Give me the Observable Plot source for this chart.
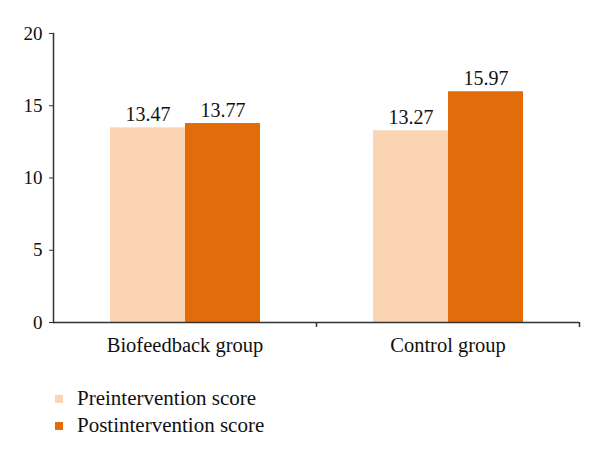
<!DOCTYPE html>
<html>
<head>
<meta charset="utf-8">
<script src="https://cdn.jsdelivr.net/npm/d3@7"></script>
<script src="https://cdn.jsdelivr.net/npm/@observablehq/plot@0.6"></script>
<style>
  body { margin: 0; background: white; font-family: "Liberation Serif", serif; }
  #wrap { position: relative; width: 600px; height: 457px; }
  #legend { position: absolute; left: 55px; top: 385px; font-size: 21px; color: #111; }
  .row { display: flex; align-items: center; height: 27px; }
  .sw { width: 8px; height: 8px; margin-right: 14px; }
</style>
</head>
<body>
<div id="wrap">
  <div id="chart"></div>
  <div id="legend"></div>
</div>
<script>
const groups = ["Biofeedback group", "Control group"];
const series = ["Preintervention score", "Postintervention score"];
const preValues = [13.47, 13.27];
const postValues = [13.77, 15.97];
const yTicks = [0, 5, 10, 15, 20];
const colors = ["#FBD4B4", "#E36C0A"];

const data = groups.flatMap((g, i) => [
  {group: g, series: series[0], value: preValues[i]},
  {group: g, series: series[1], value: postValues[i]}
]);

const chart = Plot.plot({
  width: 600,
  height: 380,
  marginTop: 33,
  marginBottom: 58,
  marginLeft: 53,
  marginRight: 21,
  style: {fontFamily: "Liberation Serif", fontSize: "19px", color: "#111", background: "white"},
  fx: {domain: groups, padding: 0, label: null},
  x: {domain: series, paddingInner: 0, paddingOuter: 0.753, axis: null},
  y: {domain: [0, 20], label: null},
  color: {domain: series, range: colors},
  marks: [
    Plot.barY(data, {fx: "group", x: "series", y: "value", fill: "series"}),
    Plot.text(data, {fx: "group", x: "series", y: "value", text: d => d.value.toFixed(2), lineAnchor: "bottom", dy: -7, fontSize: 20, fill: "#111"}),
    Plot.ruleY([0], {stroke: "#333", strokeWidth: 1.5}),
    Plot.frame({anchor: "left", facetAnchor: "left", stroke: "#333", strokeWidth: 1.5}),
    Plot.axisY({ticks: yTicks, tickSize: 4, tickPadding: 7, label: null, stroke: "#333", fontSize: 19}),
    Plot.axisFx({anchor: "bottom", tickSize: 0, tickPadding: 15, label: null, fontSize: 20.5}),
    Plot.axisFx({anchor: "bottom", tickSize: 5, tickFormat: () => "", dx: 131.5, label: null, stroke: "#333", strokeWidth: 1.5})
  ]
});
document.getElementById("chart").appendChild(chart);

const legend = document.getElementById("legend");
series.forEach((s, i) => {
  const row = document.createElement("div");
  row.className = "row";
  const sw = document.createElement("span");
  sw.className = "sw";
  sw.style.background = colors[i];
  const t = document.createElement("span");
  t.textContent = s;
  row.appendChild(sw);
  row.appendChild(t);
  legend.appendChild(row);
});
</script>
</body>
</html>
